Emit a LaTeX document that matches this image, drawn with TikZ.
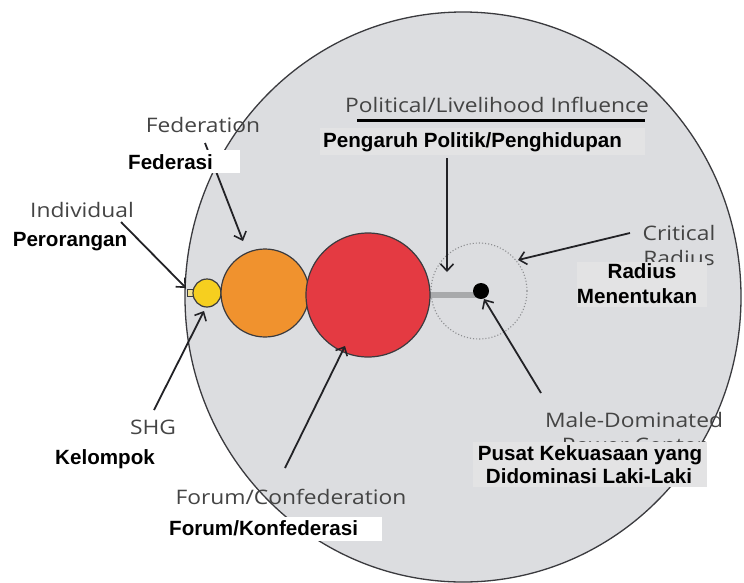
\documentclass[tikz,border=0pt]{standalone}
\usepackage{fontspec}
\setmainfont{Liberation Sans}
\newfontfamily\greyfont[FakeStretch=1.14]{Open Sans}
\usetikzlibrary{arrows.meta}
\definecolor{bgc}{HTML}{DCDDE0}
\definecolor{rimc}{HTML}{3A3A3E}
\definecolor{yelc}{HTML}{F6CF1F}
\definecolor{paleyel}{HTML}{F3E08C}
\definecolor{orgc}{HTML}{F0922E}
\definecolor{redc}{HTML}{E43A42}
\definecolor{barc}{HTML}{A8A9AB}
\definecolor{dotc}{HTML}{8E8F92}
\definecolor{engc}{HTML}{444444}
\definecolor{arrc}{HTML}{222226}
\definecolor{boxc}{HTML}{E3E3E4}
\begin{document}
\begin{tikzpicture}[x=1pt,y=-1pt,
  circ/.style={circle, draw=rimc, line width=1.2pt, inner sep=0pt},
  arr/.style={draw=arrc, line width=1.8pt, -{Straight Barb[length=7pt,width=13pt,line width=1.6pt]}},
  eng/.style={font=\greyfont\fontsize{20}{22}\selectfont, text=engc, inner sep=0pt},
  idn/.style={font=\bfseries\fontsize{20.6}{22}\selectfont, text=black, inner sep=0pt},
  whitebox/.style={fill=white, inner sep=0pt},
  greybox/.style={fill=boxc, inner sep=0pt}]
\useasboundingbox (0,0) rectangle (744,582);
\fill[white] (0,0) rectangle (744,582);
% big field
\draw[fill=bgc, draw=rimc, line width=1.3pt] (463,297) ellipse [x radius=278, y radius=285];
% critical radius, bar, circles
\node[circle, draw=dotc, dotted, line width=1.1pt, minimum size=96pt, inner sep=0pt] (crit) at (479,291) {};
\node[fill=barc, minimum width=48pt, minimum height=6pt, inner sep=0pt] (bar) at (454,295) {};
\node[rectangle, draw=rimc, line width=0.8pt, fill=paleyel, minimum width=6pt, minimum height=7pt, inner sep=0pt] (indv) at (190,293) {};
\node[circ, fill=yelc, minimum size=28pt] (shg) at (207,293) {};
\node[circ, fill=orgc, minimum size=88pt] (fed) at (265,293) {};
\node[circ, fill=redc, minimum size=124pt] (forum) at (368,295) {};
\node[circle, fill=black, minimum size=16pt, inner sep=0pt] (pc) at (481,291) {};
% arrows
\coordinate (indS) at (121,222); \coordinate (indE) at (186,288);
\coordinate (fedS) at (205,143); \coordinate (fedE) at (243,241);
\coordinate (shgS) at (154,410); \coordinate (shgE) at (204,311);
\coordinate (forS) at (285,468); \coordinate (forE) at (345,346);
\coordinate (polS) at (447,158); \coordinate (polE) at (447,272);
\coordinate (criS) at (630,233); \coordinate (criE) at (518,260);
\coordinate (malS) at (541,393); \coordinate (malE) at (484,299);
\draw[arr] (indS) -- (indE);
\draw[arr] (fedS) -- (fedE);
\draw[arr] (shgS) -- (shgE);
\draw[arr] (forS) -- (forE);
\draw[arr] (polS) -- (polE);
\draw[arr] (criS) -- (criE);
\draw[arr] (malS) -- (malE);
% English labels
\node[eng] (tpol) at (497,105) {Political/Livelihood Influence};
\coordinate (ulA) at (357,120); \coordinate (ulB) at (645,120);
\draw[line width=3pt, black] (ulA) -- (ulB);
\node[eng] (tfed) at (203,125) {Federation};
\node[eng] (tind) at (82,210) {Individual};
\node[eng] (tshg) at (153,427) {SHG};
\node[eng] (tfor) at (291,497) {Forum/Confederation};
\node[eng] (tcri) at (679,233) {Critical};
\node[eng] (tcri2) at (679,258) {Radius};
\node[eng] (tmal) at (634,420) {Male-Dominated};
\node[eng] (tmal2) at (634,445) {Power Center};
% Indonesian labels
\node[greybox, minimum width=325pt, minimum height=27pt] (bpol) at (482.5,141.5) {};
\node[idn, anchor=west] (ipol) at (323,142) {Pengaruh Politik/Penghidupan};
\node[whitebox, minimum width=115pt, minimum height=23pt] (bfed) at (182.5,161.5) {};
\node[idn, anchor=west] (ifed) at (128,162) {Federasi};
\node[idn] (iind) at (70,242) {Perorangan};
\node[idn] (ishg) at (105,459) {Kelompok};
\node[whitebox, minimum width=214pt, minimum height=24pt] (bfor) at (275,529) {};
\node[idn, anchor=west] (ifor) at (169,528) {Forum/Konfederasi};
\node[greybox, minimum width=130pt, minimum height=45pt] (bcri) at (642,284.5) {};
\node[idn] (icri1) at (642,271) {Radius};
\node[idn] (icri2) at (637,296) {Menentukan};
\node[greybox, minimum width=234pt, minimum height=45pt] (bmal) at (590,464.5) {};
\node[idn] (imal1) at (590,455) {Pusat Kekuasaan yang};
\node[idn] (imal2) at (589,476) {Didominasi Laki-Laki};
\end{tikzpicture}
\end{document}
